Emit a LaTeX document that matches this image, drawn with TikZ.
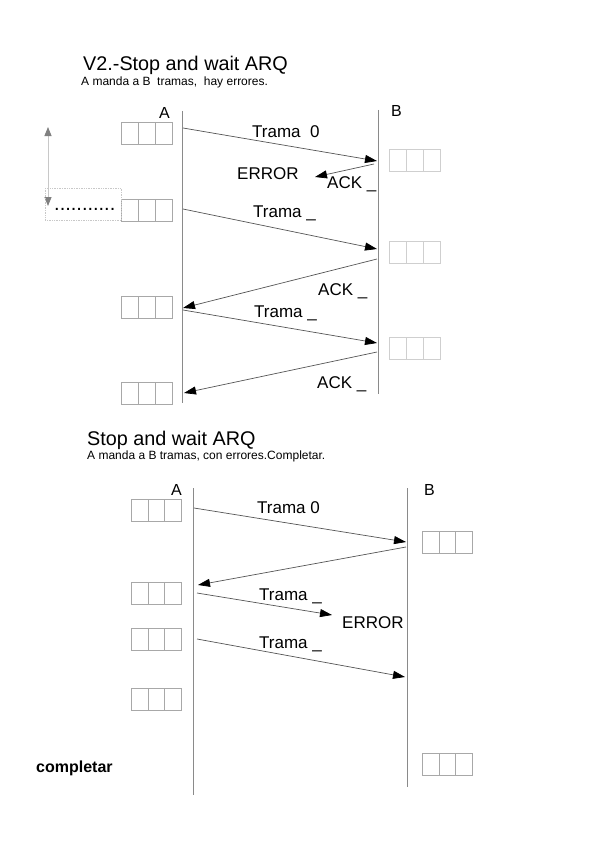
\documentclass[tikz,border=0pt]{standalone}
\usepackage{fontspec}
\setmainfont{Liberation Sans}
\usetikzlibrary{arrows.meta,calc}
\definecolor{lifec}{HTML}{8A8A8A}
\definecolor{arrc}{HTML}{555555}
\definecolor{boxa}{HTML}{A8A8A8}
\definecolor{boxb}{HTML}{CFCFCF}
\definecolor{helpc}{HTML}{C8C8C8}
\tikzset{
  lifeline/.style={draw=lifec, line width=0.9pt},
  msg/.style={draw=arrc, line width=0.7pt, -{Triangle[length=12pt,width=8pt,fill=black,color=black]}},
  frame/.style={draw=#1, line width=0.8pt, minimum width=51pt, minimum height=22pt, inner sep=0pt, anchor=north west,
    path picture={\foreach \f in {1,2} \draw[#1, line width=0.8pt] ($(path picture bounding box.south west)!\f/3!(path picture bounding box.south east)$) -- ($(path picture bounding box.north west)!\f/3!(path picture bounding box.north east)$);}},
  lbl/.style={font=\fontsize{17}{20}\selectfont, anchor=base west, inner sep=0pt},
  ttl/.style={font=\fontsize{19.8}{23}\selectfont, anchor=base west, inner sep=0pt},
  sub/.style={font=\fontsize{12}{14}\selectfont, anchor=base west, inner sep=0pt},
  ent/.style={font=\fontsize{16}{19}\selectfont, anchor=base west, inner sep=0pt}
}
\begin{document}
\begin{tikzpicture}[x=1pt,y=-1pt]
\useasboundingbox[fill=white] (0,0) rectangle (599,848);

% ---------- top part ----------
\node[ttl] (t1) at (83,71) {V2.-Stop and wait ARQ};
\node[sub] (s1) at (81,86) {A manda a B\ \ tramas,\ \ hay errores.};
\node[ent] (la) at (159,119) {A};
\node[ent] (lb) at (391,117) {B};

\coordinate (Atop) at (182,111);
\coordinate (Abot) at (182,403);
\coordinate (Btop) at (378,110);
\coordinate (Bbot) at (378,394);
\draw[lifeline] (Atop) -- (Abot);
\draw[lifeline] (Btop) -- (Bbot);

\node[frame=boxa] (fa1) at (121,122) {};
\node[frame=boxa] (fa2) at (121,199) {};
\node[frame=boxa] (fa3) at (121,296) {};
\node[frame=boxa] (fa4) at (121,382) {};
\node[frame=boxb] (fb1) at (389,149) {};
\node[frame=boxb] (fb2) at (389,241) {};
\node[frame=boxb] (fb3) at (389,337) {};

\coordinate (p1s) at (183,128); \coordinate (p1e) at (377,161);
\coordinate (p2s) at (374,164); \coordinate (p2e) at (315,177);
\coordinate (p3s) at (183,209); \coordinate (p3e) at (377,249);
\coordinate (p4s) at (377,259); \coordinate (p4e) at (183,308);
\coordinate (p5s) at (183,310); \coordinate (p5e) at (377,343);
\coordinate (p6s) at (377,352); \coordinate (p6e) at (184,393);
\draw[msg] (p1s) -- (p1e);
\draw[msg] (p2s) -- (p2e);
\draw[msg] (p3s) -- (p3e);
\draw[msg] (p4s) -- (p4e);
\draw[msg] (p5s) -- (p5e);
\draw[msg] (p6s) -- (p6e);

\node[lbl] (m1) at (252,137) {Trama\ \ 0};
\node[lbl] (err1) at (237,179) {ERROR};
\node[lbl] (k1) at (327,188) {ACK \_};
\node[lbl] (m2) at (253,217) {Trama \_};
\node[lbl] (k2) at (318,295) {ACK \_};
\node[lbl] (m3) at (254,317) {Trama \_};
\node[lbl] (k3) at (317,388) {ACK \_};

% helper arrow and dotted box
\coordinate (h1) at (48,127);
\coordinate (h2) at (48,206);
\draw[helpc, line width=0.8pt, {Triangle[length=9pt,width=7pt,color=gray]}-{Triangle[length=9pt,width=7pt,color=gray]}] (h1) -- (h2);
\node[draw=helpc, densely dotted, line width=0.7pt, minimum width=76pt, minimum height=32pt, inner sep=0pt, anchor=north west] (dbox) at (45,188) {};
\node[font=\fontsize{20}{22}\selectfont, anchor=base west, inner sep=0pt] (dots) at (54,210) {...........};

% ---------- bottom part ----------
\node[ttl] (t2) at (87,445) {Stop and wait ARQ};
\node[sub] (s2) at (87,459) {A manda a B tramas, con errores.Completar.};
\node[ent] (la2) at (171,495) {A};
\node[ent] (lb2) at (424,495) {B};

\coordinate (A2top) at (193,488);
\coordinate (A2bot) at (193,795);
\coordinate (B2top) at (407,488);
\coordinate (B2bot) at (407,787);
\draw[lifeline] (A2top) -- (A2bot);
\draw[lifeline] (B2top) -- (B2bot);

\node[frame=boxa, minimum width=50pt] (ga1) at (131,499) {};
\node[frame=boxa, minimum width=50pt] (ga2) at (131,582) {};
\node[frame=boxa, minimum width=50pt] (ga3) at (131,628) {};
\node[frame=boxa, minimum width=50pt] (ga4) at (131,688) {};
\node[frame=boxa, minimum width=50pt] (gb1) at (422,531) {};
\node[frame=boxa, minimum width=50pt] (gb2) at (422,753) {};

\coordinate (q1s) at (194,508); \coordinate (q1e) at (406,542);
\coordinate (q2s) at (406,547); \coordinate (q2e) at (198,585);
\coordinate (q3s) at (197,593); \coordinate (q3e) at (332,615);
\coordinate (q4s) at (197,639); \coordinate (q4e) at (405,677);
\draw[msg] (q1s) -- (q1e);
\draw[msg] (q2s) -- (q2e);
\draw[msg] (q3s) -- (q3e);
\draw[msg] (q4s) -- (q4e);

\node[lbl] (n1) at (257,513) {Trama 0};
\node[lbl] (n2) at (259,600) {Trama \_};
\node[lbl] (err2) at (342,628) {ERROR};
\node[lbl] (n3) at (259,648) {Trama \_};
\node[font=\fontsize{16}{19}\selectfont\bfseries, anchor=base west, inner sep=0pt] (comp) at (36,772) {completar};
\end{tikzpicture}
\end{document}
